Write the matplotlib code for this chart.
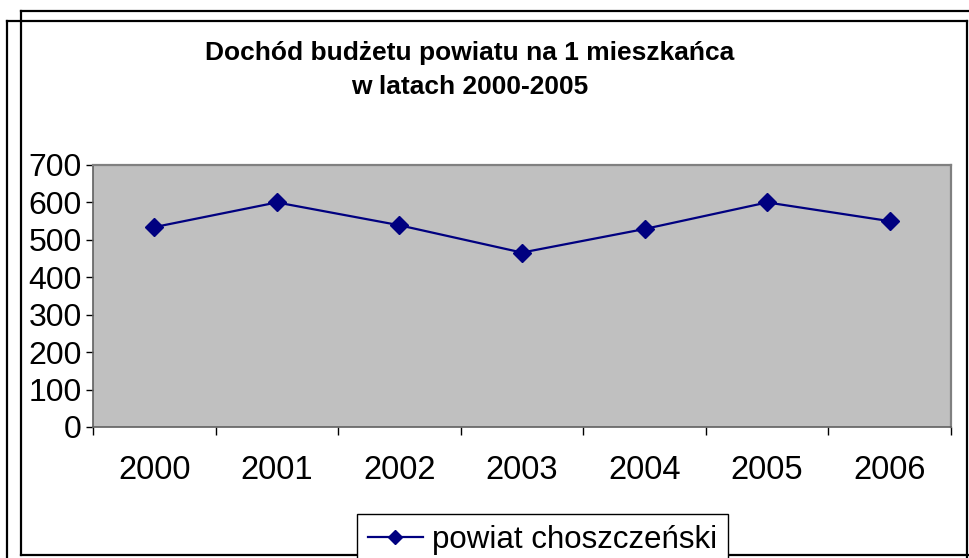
import numpy as np
import matplotlib as mpl
mpl.use('Agg')
import matplotlib.pyplot as plt
from matplotlib.lines import Line2D

plt.rcParams['font.family'] = ['Liberation Sans', 'DejaVu Sans']

years = ['2000', '2001', '2002', '2003', '2004', '2005', '2006']
income = [534, 600, 539, 466, 529, 600, 550]
series_name = 'powiat choszczeński'
title = 'Dochód budżetu powiatu na 1 mieszkańca\nw latach 2000-2005'

W, H = 970, 558
fig = plt.figure(figsize=(W / 100, H / 100), dpi=100)

def fx(px):
    return px / W

def fy(py):
    return 1 - py / H

# two overlapping frames around the chart
lw = 1.6
fig.add_artist(Line2D([fx(21), 1.01], [fy(11), fy(11)], color='black', lw=lw))
fig.add_artist(Line2D([fx(21), fx(21)], [fy(11), fy(555)], color='black', lw=lw))
fig.add_artist(Line2D([fx(21), 1.01], [fy(555), fy(555)], color='black', lw=lw))
fig.add_artist(Line2D([fx(7), fx(967)], [fy(21), fy(21)], color='black', lw=lw))
fig.add_artist(Line2D([fx(7), fx(7)], [fy(21), -0.01], color='black', lw=lw))
fig.add_artist(Line2D([fx(967), fx(967)], [fy(21), -0.01], color='black', lw=lw))

ax = fig.add_axes([fx(93), fy(427), fx(951) - fx(93), fy(165) - fy(427)])
ax.set_facecolor('#C0C0C0')

x = np.arange(len(years))
ax.plot(x, income, color='#000080', lw=1.6, marker='D', markersize=9,
        markerfacecolor='#000080', markeredgecolor='#000080', label=series_name)

ax.set_xlim(-0.5, len(years) - 0.5)
ax.set_ylim(0, 700)
ax.set_yticks(np.arange(0, 701, 100))
ax.set_xticks(x)
ax.set_xticklabels(years)
ax.set_xticks(np.arange(-0.5, len(years)), minor=True)

ax.tick_params(axis='x', which='major', length=0, pad=20, labelsize=23.5)
ax.tick_params(axis='x', which='minor', length=6, width=1, direction='out')
ax.tick_params(axis='y', length=5, width=1, pad=3, labelsize=23, direction='out')

for side in ['top', 'right']:
    ax.spines[side].set_color('#808080')
    ax.spines[side].set_linewidth(1.6)
for side in ['left', 'bottom']:
    ax.spines[side].set_color('#606060')
    ax.spines[side].set_linewidth(1.2)

fig.text(fx(470), fy(70), title, ha='center', va='center', fontsize=19,
         fontweight='bold', linespacing=1.5)

leg = fig.legend(loc='upper left', bbox_to_anchor=(fx(357), fy(514)),
                 bbox_transform=fig.transFigure, borderaxespad=0,
                 fontsize=22.5, frameon=True, fancybox=False,
                 handlelength=1.75, handletextpad=0.3, borderpad=0.35,
                 markerscale=0.8)
leg.get_frame().set_edgecolor('black')
leg.get_frame().set_linewidth(1.0)
leg.get_frame().set_facecolor('white')
leg.get_frame().set_alpha(1)

fig.savefig('out.png', dpi=100)
